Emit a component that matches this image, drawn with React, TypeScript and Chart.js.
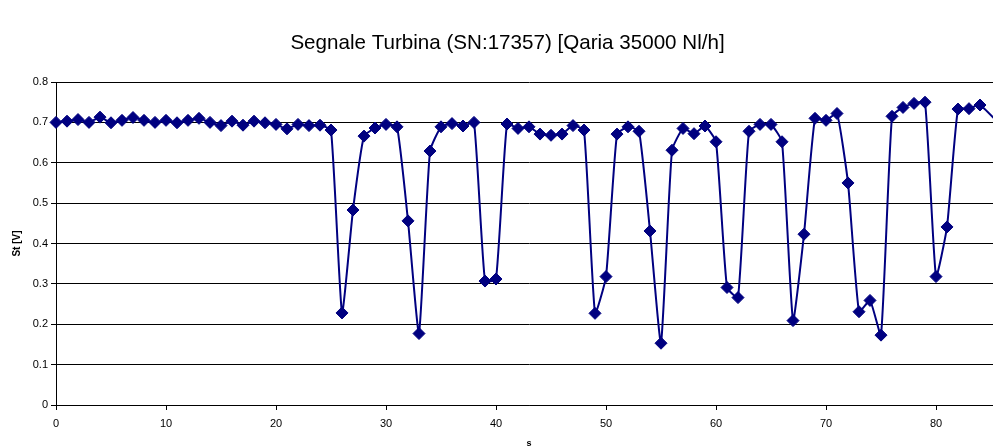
import React, { useEffect, useRef } from "react";
import { Chart, registerables } from "chart.js";

Chart.register(...registerables);

const TITLE = "Segnale Turbina (SN:17357) [Qaria 35000 Nl/h]";
const X_TITLE = "s";
const Y_TITLE = "St [V]";

const xValues: number[] = [
  0, 1, 2, 3, 4, 5, 6, 7, 8, 9, 10, 11, 12, 13, 14, 15, 16, 17, 18, 19, 20,
  21, 22, 23, 24, 25, 26, 27, 28, 29, 30, 31, 32, 33, 34, 35, 36, 37, 38, 39, 40,
  41, 42, 43, 44, 45, 46, 47, 48, 49, 50, 51, 52, 53, 54, 55, 56, 57, 58, 59, 60,
  61, 62, 63, 64, 65, 66, 67, 68, 69, 70, 71, 72, 73, 74, 75, 76, 77, 78, 79, 80,
  81, 82, 83, 84, 86,
];

const signal: number[] = [
  0.700, 0.703, 0.707, 0.700, 0.713, 0.699, 0.705, 0.712, 0.705, 0.700, 0.705,
  0.699, 0.705, 0.710, 0.700, 0.692, 0.703, 0.693, 0.703, 0.699, 0.695,
  0.684, 0.695, 0.692, 0.693, 0.681, 0.228, 0.483, 0.666, 0.686, 0.695,
  0.689, 0.456, 0.177, 0.629, 0.689, 0.697, 0.691, 0.700, 0.307, 0.312,
  0.696, 0.685, 0.689, 0.671, 0.668, 0.671, 0.692, 0.681, 0.227, 0.318,
  0.671, 0.689, 0.678, 0.431, 0.153, 0.631, 0.685, 0.672, 0.691, 0.652,
  0.291, 0.266, 0.678, 0.695, 0.695, 0.652, 0.209, 0.423, 0.710, 0.705,
  0.722, 0.550, 0.231, 0.259, 0.173, 0.715, 0.737, 0.747, 0.750, 0.318,
  0.441, 0.733, 0.734, 0.743, 0.690,
];

const xTicks: number[] = [0, 10, 20, 30, 40, 50, 60, 70, 80];
const yTicks: number[] = [0, 0.1, 0.2, 0.3, 0.4, 0.5, 0.6, 0.7, 0.8];
const yTickLabels: string[] = ["0", "0.1", "0.2", "0.3", "0.4", "0.5", "0.6", "0.7", "0.8"];

const FONT = "'Liberation Sans', Arial, sans-serif";

const titlePlugin = {
  id: "pageTitle",
  afterDraw(chart: any) {
    const ctx = chart.ctx;
    ctx.save();
    ctx.font = `normal 20.6px ${FONT}`;
    ctx.fillStyle = "#000";
    ctx.textAlign = "center";
    ctx.textBaseline = "middle";
    ctx.fillText(TITLE, 507.5, 43);
    ctx.restore();
  },
};

export default function App() {
  const ref = useRef<HTMLCanvasElement | null>(null);

  useEffect(() => {
    if (!ref.current) return;
    const points = xValues.map((x, i) => ({ x, y: signal[i] }));
    const chart = new Chart(ref.current, {
      type: "line",
      data: {
        datasets: [
          {
            data: points,
            borderColor: "#000080",
            backgroundColor: "#000080",
            borderWidth: 2,
            pointStyle: "rectRot",
            pointRadius: 6,
            pointBorderWidth: 1,
            pointBackgroundColor: "#000080",
            pointBorderColor: "#000080",
            tension: 0.15,
            clip: false as any,
          },
        ],
      },
      plugins: [titlePlugin],
      options: {
        responsive: false,
        devicePixelRatio: 1,
        animation: false,
        layout: { padding: { top: 82, left: 0, right: 13, bottom: 0 } },
        plugins: {
          legend: { display: false },
          tooltip: { enabled: false },
          title: { display: false },
        },
        scales: {
          x: {
            type: "linear",
            min: 0,
            max: 86,
            afterFit: (s: any) => {
              s.height = 42;
            },
            afterBuildTicks: (s: any) => {
              s.ticks = xTicks.map((v) => ({ value: v }));
            },
            ticks: {
              color: "#000",
              font: { family: FONT, size: 11 },
              padding: 7,
              maxRotation: 0,
              autoSkip: false,
            },
            grid: {
              display: true,
              drawOnChartArea: false,
              drawTicks: true,
              tickLength: 5,
              color: "#000",
            },
            border: { display: true, color: "#000", width: 1 },
            title: {
              display: true,
              text: X_TITLE,
              color: "#000",
              font: { family: FONT, size: 9, weight: "bold" as any },
              padding: { top: 0, bottom: -2 },
            },
          },
          y: {
            type: "linear",
            min: 0,
            max: 0.8,
            afterFit: (s: any) => {
              s.width = 56;
            },
            afterBuildTicks: (s: any) => {
              s.ticks = yTicks.map((v) => ({ value: v }));
            },
            ticks: {
              color: "#000",
              font: { family: FONT, size: 11 },
              padding: 3,
              autoSkip: false,
              callback: (_v: any, i: number) => yTickLabels[i],
            },
            grid: {
              display: true,
              drawOnChartArea: true,
              drawTicks: true,
              tickLength: 5,
              color: "#000",
              lineWidth: 1,
            },
            border: { display: true, color: "#000", width: 1 },
            title: {
              display: true,
              text: Y_TITLE,
              color: "#000",
              font: { family: FONT, size: 10, weight: "bold" as any },
              padding: { top: 11, bottom: 4 },
            },
          },
        },
      },
    });
    return () => chart.destroy();
  }, []);

  return (
    <div
      style={{
        position: "fixed",
        left: 0,
        top: 0,
        width: 993,
        height: 447,
        overflow: "hidden",
        background: "#fff",
      }}
    >
      <canvas
        ref={ref}
        width={1015}
        height={447}
        style={{ display: "block", width: 1015, height: 447 }}
      />
    </div>
  );
}
